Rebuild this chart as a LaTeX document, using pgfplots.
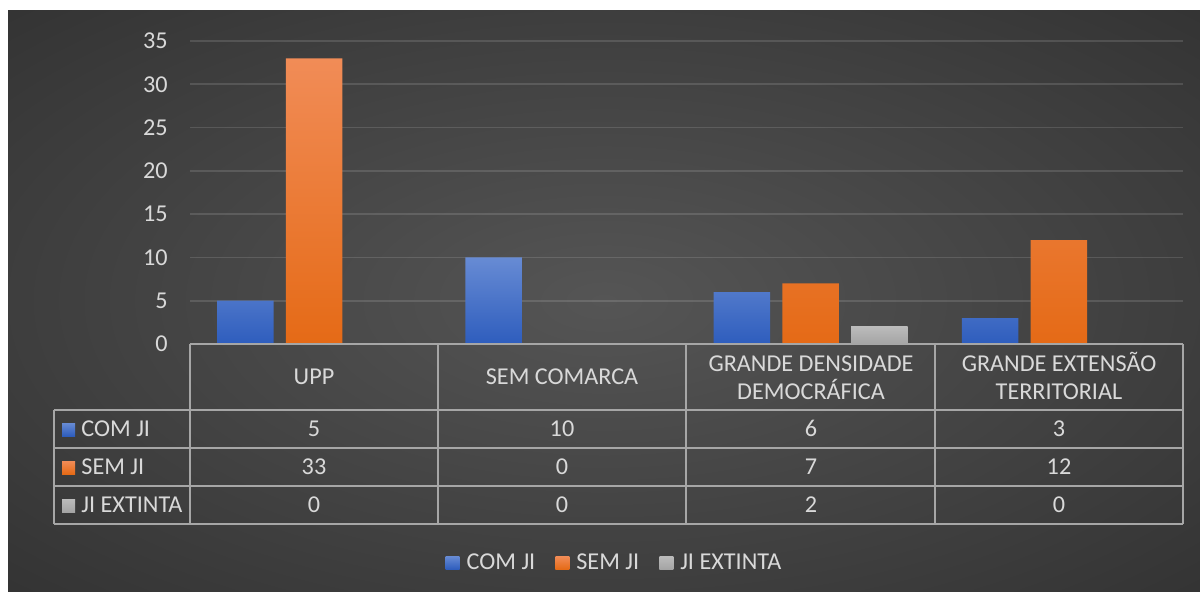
\documentclass[border=0pt]{standalone}
\usepackage{pgfplots}
\pgfplotsset{compat=1.18}
\usepackage{fontspec}
\setmainfont{Carlito}
\definecolor{txt}{HTML}{D9D9D9}
\definecolor{tablecol}{HTML}{A6A6A6}
\definecolor{bluetop}{HTML}{678BD4}
\definecolor{bluebot}{HTML}{2E5DBD}
\definecolor{orgtop}{HTML}{F18C57}
\definecolor{orgbot}{HTML}{E56A16}
\definecolor{graytop}{HTML}{BBBBBB}
\definecolor{graybot}{HTML}{A4A4A4}
\definecolor{bgin}{HTML}{555555}
\definecolor{bgout}{HTML}{262626}
\definecolor{bgcorner}{HTML}{222222}
\pgfdeclareradialshading{bgshade}{\pgfpoint{0bp}{0bp}}{color(0bp)=(bgin); color(50bp)=(bgout); color(100bp)=(bgcorner)}
\newcommand\cf{\fontsize{12.1}{14}\selectfont}
\begin{document}
\begin{tikzpicture}
\begin{scope}[x=0.5pt,y=-0.5pt,shift={(0pt,295.5pt)}]
  \fill[white] (0,0) rectangle (1200,591);
  \shade[shading=bgshade] (8,10) rectangle (1200,591);
\end{scope}
\begin{axis}[
  at={(95pt,123.5pt)}, anchor=south west,
  scale only axis, width=496.5pt, height=151.5pt,
  xmin=-0.5, xmax=3.5, ymin=0, ymax=35,
  ytick={0,5,...,35}, xtick=\empty,
  axis line style={draw=none},
  tick style={draw=none}, major tick length=0pt,
  ymajorgrids, grid style={white, opacity=0.13, line width=0.8pt},
  /pgf/number format/assume math mode=true,
  yticklabel style={font=\cf, text=txt, inner sep=0pt, xshift=-11pt},
  legend style={at={(0.428,-0.722)}, anchor=center, draw=none, fill=none,
    text=txt, font=\cf, legend columns=-1,
    /tikz/every odd column/.append style={column sep=2pt},
    /tikz/every even column/.append style={column sep=8.5pt},
    nodes={inner sep=1.5pt}},
  legend image code/.code={\fill[#1] (0pt,-3.25pt) rectangle (7pt,3.25pt);},
]
\addplot[ybar, bar width=0.228, bar shift=-0.277, draw=none, top color=bluetop, bottom color=bluebot]
  coordinates {(0,5) (1,10) (2,6) (3,3)};
\addplot[ybar, bar width=0.228, bar shift=0, draw=none, top color=orgtop, bottom color=orgbot]
  coordinates {(0,33) (2,7) (3,12)};
\addplot[ybar, bar width=0.228, bar shift=0.277, draw=none, top color=graytop, bottom color=graybot]
  coordinates {(2,2)};
\legend{COM JI, SEM JI, JI EXTINTA}
\end{axis}
\begin{scope}[x=0.5pt,y=-0.5pt,shift={(0pt,295.5pt)}]
  \begin{scope}[draw=tablecol, line width=1pt]
  \draw (190,344) -- (1183,344);
  \foreach \y in {410,448,486,524} \draw (54,\y) -- (1183,\y);
  \draw (54,410) -- (54,524);
  \foreach \x in {190,438,686,935,1183} \draw (\x,344) -- (\x,524);
  \end{scope}
  \begin{scope}[every node/.style={text=txt, font=\cf, inner sep=0pt}]
  \node[anchor=base] at (314,384) {UPP};
  \node[anchor=base] at (562,384) {SEM COMARCA};
  \node[anchor=base] at (811,371) {GRANDE DENSIDADE};
  \node[anchor=base] at (811,399) {DEMOCRÁFICA};
  \node[anchor=base] at (1059,371) {GRANDE EXTENSÃO};
  \node[anchor=base] at (1059,399) {TERRITORIAL};
  % row labels
  \fill[top color=bluetop, bottom color=bluebot] (62,423) rectangle (75,436);
  \fill[top color=orgtop, bottom color=orgbot] (62,461) rectangle (75,474);
  \fill[top color=graytop, bottom color=graybot] (62,499) rectangle (75,512);
  \node[anchor=base west] at (81,436) {COM JI};
  \node[anchor=base west] at (81,474) {SEM JI};
  \node[anchor=base west] at (81,512) {JI EXTINTA};
  % values
  \node[anchor=base] at (314,436) {5};
  \node[anchor=base] at (562,436) {10};
  \node[anchor=base] at (811,436) {6};
  \node[anchor=base] at (1059,436) {3};
  \node[anchor=base] at (314,474) {33};
  \node[anchor=base] at (562,474) {0};
  \node[anchor=base] at (811,474) {7};
  \node[anchor=base] at (1059,474) {12};
  \node[anchor=base] at (314,512) {0};
  \node[anchor=base] at (562,512) {0};
  \node[anchor=base] at (811,512) {2};
  \node[anchor=base] at (1059,512) {0};
  \end{scope}
\end{scope}
\end{tikzpicture}
\end{document}
